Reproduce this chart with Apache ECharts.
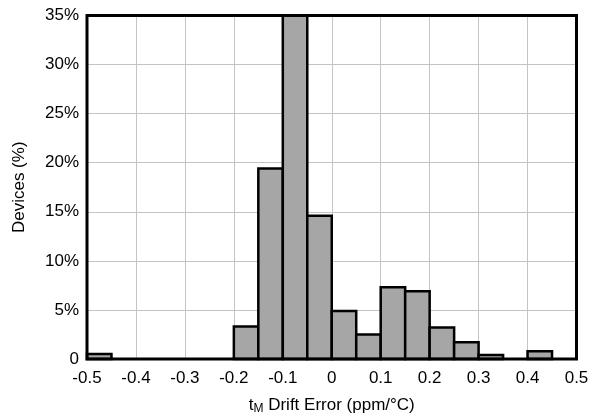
<!DOCTYPE html>
<html><head><meta charset="utf-8">
<script src="https://cdn.jsdelivr.net/npm/echarts@6/dist/echarts.min.js"></script>
<style>html,body{margin:0;padding:0;background:#fff}#c{width:600px;height:415px}</style>
</head><body><div id="c"></div>
<script>
const binStarts = [-0.5,-0.45,-0.4,-0.35,-0.3,-0.25,-0.2,-0.15,-0.1,-0.05,0,0.05,0.1,0.15,0.2,0.25,0.3,0.35,0.4,0.45];
const percents  = [0.5,0,0,0,0,0,3.3,19.4,35,14.6,4.9,2.5,7.3,6.9,3.2,1.7,0.4,0,0.8,0];
const binWidth = 0.05;
const xTicks = [-0.5,-0.4,-0.3,-0.2,-0.1,0,0.1,0.2,0.3,0.4,0.5];
const yTicks = ['0','5%','10%','15%','20%','25%','30%','35%'];

const data = binStarts.map((s,i)=>[s, s+binWidth, percents[i]]);
const font = 'Liberation Sans, Arial, sans-serif';
const chart = echarts.init(document.getElementById('c'));
chart.setOption({
  animation:false,
  grid:{left:87,top:15.5,right:23.5,bottom:56,containLabel:false,outerBoundsMode:'none',show:true,borderColor:'#000',borderWidth:3,backgroundColor:'transparent',z:4},
  xAxis:{type:'value',min:-0.5,max:0.5,interval:0.1,
    axisLine:{show:false},axisTick:{show:false},
    splitLine:{show:true,lineStyle:{color:'#c4c4c4',width:1}},
    axisLabel:{color:'#000',fontSize:17,fontFamily:font,margin:11,
      formatter:v=>{const r=Math.round(v*10)/10; return xTicks.includes(r)? String(r):'';}},
    name:'{a|t}{s|M}{a| Drift Error (ppm/°C)}',nameLocation:'middle',nameGap:37,
    nameTextStyle:{rich:{a:{fontSize:17,color:'#000',fontFamily:font},s:{fontSize:12,color:'#000',fontFamily:font,verticalAlign:'bottom',padding:[7,0,0,0]}}}
  },
  yAxis:{type:'value',min:0,max:35,interval:5,
    axisLine:{show:false},axisTick:{show:false},
    splitLine:{show:true,lineStyle:{color:'#c4c4c4',width:1}},
    axisLabel:{color:'#000',fontSize:17,fontFamily:font,margin:8,
      formatter:v=>yTicks[Math.round(v/5)]},
    name:'Devices (%)',nameLocation:'middle',nameGap:59,
    nameTextStyle:{fontSize:17,color:'#000',fontFamily:font}
  },
  series:[{
    type:'custom',
    data:data,
    renderItem:(params,api)=>{
      const x0=api.value(0), x1=api.value(1), y=api.value(2);
      if(!(y>0)) return null;
      const p0=api.coord([x0,y]), p1=api.coord([x1,0]);
      return {type:'rect',shape:{x:p0[0],y:p0[1],width:p1[0]-p0[0],height:p1[1]-p0[1]},
        style:{fill:'#a6a6a6',stroke:'#000',lineWidth:2.5}};
    },
    encode:{x:[0,1],y:2},
    z:3
  }]
});
</script></body></html>
